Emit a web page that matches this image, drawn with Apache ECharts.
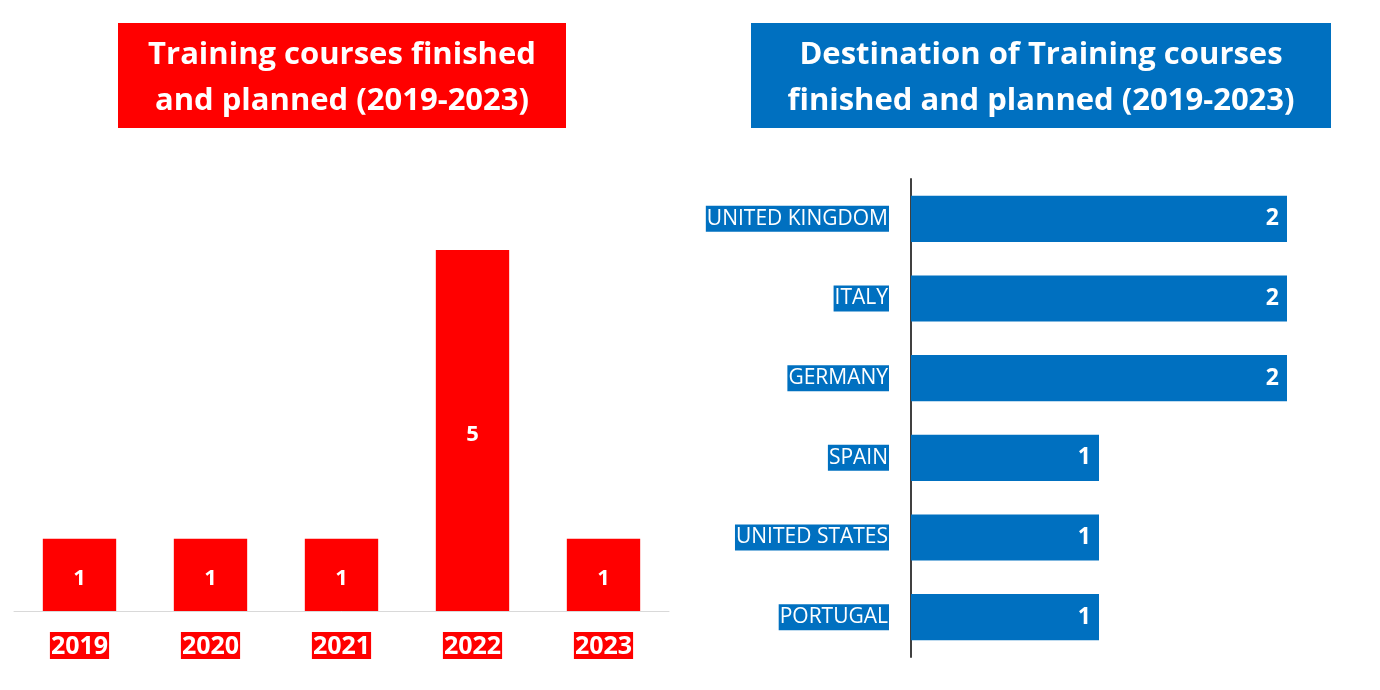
<!DOCTYPE html>
<html>
<head>
<meta charset="utf-8">
<script src="https://cdn.jsdelivr.net/npm/echarts@6/dist/echarts.min.js"></script>
<style>html,body{margin:0;padding:0;background:#fff;}#c{width:1380px;height:690px;}</style>
</head>
<body>
<div id="c"></div>
<script>
var years = ['2019', '2020', '2021', '2022', '2023'];
var yearCounts = [1, 1, 1, 5, 1];
var countries = ['UNITED KINGDOM', 'ITALY', 'GERMANY', 'SPAIN', 'UNITED STATES', 'PORTUGAL'];
var countryCounts = [2, 2, 2, 1, 1, 1];
var leftTitle = 'Training courses finished\nand planned (2019-2023)';
var rightTitle = 'Destination of Training courses\nfinished and planned (2019-2023)';

var RED = '#FF0000', BLUE = '#0070C0';
var FONT = '"Open Sans", "Noto Sans", sans-serif';

var chart = echarts.init(document.getElementById('c'));
chart.setOption({
  animation: false,
  backgroundColor: '#fff',
  graphic: [
    { type: 'rect', shape: { x: 118, y: 23, width: 448, height: 105 }, style: { fill: RED } },
    { type: 'text', x: 342, y: 78, style: { text: leftTitle, fill: '#fff', font: 'bold 31px ' + FONT, align: 'center', verticalAlign: 'middle', lineHeight: 46 } },
    { type: 'rect', shape: { x: 751, y: 23, width: 580, height: 105 }, style: { fill: BLUE } },
    { type: 'text', x: 1041, y: 78, style: { text: rightTitle, fill: '#fff', font: 'bold 31px ' + FONT, align: 'center', verticalAlign: 'middle', lineHeight: 46 } }
  ],
  grid: [
    { left: 14, width: 655, top: 250, bottom: 79 },
    { left: 911, right: 93, top: 179, bottom: 33 }
  ],
  xAxis: [
    { gridIndex: 0, type: 'category', data: years,
      axisLine: { show: true, lineStyle: { color: '#d9d9d9', width: 1 } },
      axisTick: { show: false },
      axisLabel: { margin: 21, color: '#fff', fontFamily: FONT, fontWeight: 'bold', fontSize: 25, backgroundColor: RED, padding: [2, 1, 0, 1] } },
    { gridIndex: 1, type: 'value', min: 0, max: 2, show: false, splitLine: { show: false } }
  ],
  yAxis: [
    { gridIndex: 0, type: 'value', min: 0, max: 5, show: false, splitLine: { show: false } },
    { gridIndex: 1, type: 'category', data: countries, inverse: true,
      axisLine: { show: true, lineStyle: { color: '#404040', width: 2 } },
      axisTick: { show: false },
      axisLabel: { margin: 22, color: '#fff', fontFamily: FONT, fontSize: 21, backgroundColor: BLUE, padding: [3, 1, 2, 1] } }
  ],
  series: [
    { type: 'bar', xAxisIndex: 0, yAxisIndex: 0, data: yearCounts, barWidth: '56%',
      itemStyle: { color: RED },
      label: { show: true, position: 'inside', offset: [0, 4], color: '#fff', fontFamily: FONT, fontWeight: 'bold', fontSize: 22 } },
    { type: 'bar', xAxisIndex: 1, yAxisIndex: 1, data: countryCounts, barWidth: '58%',
      itemStyle: { color: BLUE },
      label: { show: true, position: 'insideRight', distance: 8, color: '#fff', fontFamily: FONT, fontWeight: 'bold', fontSize: 23 } }
  ]
});
</script>
</body>
</html>
